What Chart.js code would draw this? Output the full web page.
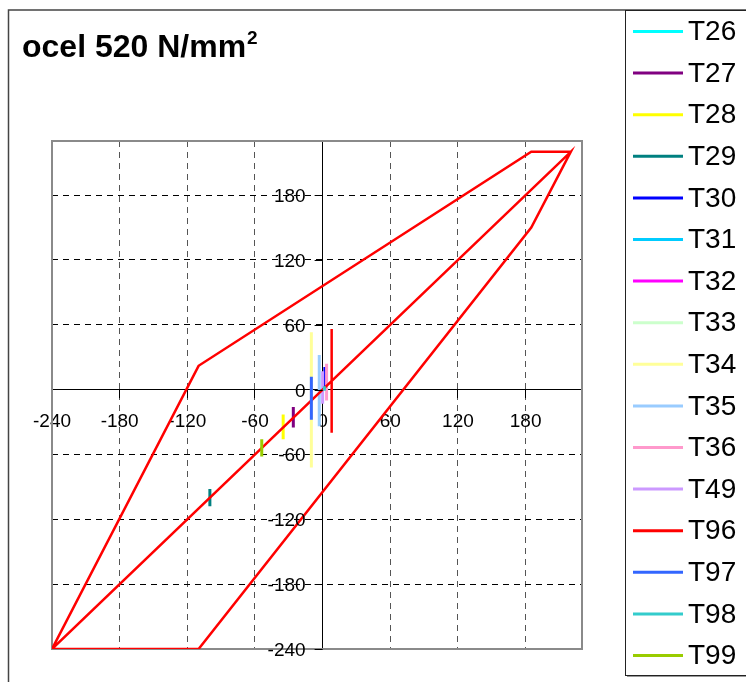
<!DOCTYPE html>
<html lang="cs">
<head>
  <meta charset="UTF-8">
  <title>ocel 520 N/mm²</title>
  <style>
    html, body { margin: 0; padding: 0; background: #fff; }
    #wrap { width: 746px; height: 682px; position: relative; }
  </style>
</head>
<body>
<div id="wrap"><canvas id="chart"></canvas></div>
<script src="https://cdn.jsdelivr.net/npm/chart.js"></script>
<script>
  const seriesNames = ['T26', 'T27', 'T28', 'T29', 'T30', 'T31', 'T32', 'T33',
                       'T34', 'T35', 'T36', 'T49', 'T96', 'T97', 'T98', 'T99'];
  const seriesColors = ['#00ffff', '#800080', '#ffff00', '#008080', '#0000ff', '#00ccff', '#ff00ff', '#ccffcc',
                        '#ffff99', '#99ccff', '#ff99cc', '#cc99ff', '#ff0000', '#3366ff', '#33cccc', '#99cc00'];

  // x / y values per series, null = gap in the line
  const t26X = [], t26Y = [];
  const t27X = [-26, -26], t27Y = [-16, -35];
  const t28X = [-35, -35], t28Y = [-23, -46];
  const t29X = [-100, -100], t29Y = [-92, -108];
  const t30X = [2, 2], t30Y = [21, 1];
  const t31X = [], t31Y = [];
  const t32X = [], t32Y = [];
  const t33X = [], t33Y = [];
  const t34X = [-10, -10], t34Y = [53, -72];
  const t35X = [-3, -3], t35Y = [32, -34];
  const t36X = [3.5, 3.5], t36Y = [24, -10];
  const t49X = [0, 0], t49Y = [17, -13];
  const t96X = [8, 8, null, -240, 220, 185, -110, -240, -110, 185, 220];
  const t96Y = [56, -40, null, -240, 220, 150, -240, -240, 22, 220, 220];
  const t97X = [-10, -10], t97Y = [12, -28];
  const t98X = [1.5, 1.5], t98Y = [3, -1];
  const t99X = [-54, -54], t99Y = [-46, -62];

  const xTicks = [-240, -180, -120, -60, 0, 60, 120, 180];
  const yTicks = [-240, -180, -120, -60, 0, 60, 120, 180];

  const seriesX = [t26X, t27X, t28X, t29X, t30X, t31X, t32X, t33X, t34X, t35X, t36X, t49X, t96X, t97X, t98X, t99X];
  const seriesY = [t26Y, t27Y, t28Y, t29Y, t30Y, t31Y, t32Y, t33Y, t34Y, t35Y, t36Y, t49Y, t96Y, t97Y, t98Y, t99Y];

  const FONT = '"Liberation Sans", Arial, sans-serif';

  const datasets = seriesNames.map((name, i) => ({
    label: name,
    data: seriesX[i].map((x, j) => ({ x: x, y: seriesY[i][j] })),
    borderColor: seriesColors[i],
    backgroundColor: seriesColors[i],
    borderWidth: name === 'T96' ? 2.5 : 3,
    showLine: true,
    pointRadius: 0,
    tension: 0,
    fill: false,
    order: seriesNames.length - i
  }));

  // frame, title, plot border, y labels and legend (drawn by hand like the excel one)
  const decor = {
    id: 'decor',
    beforeDraw(chart) {
      const ctx = chart.ctx;
      ctx.save();
      ctx.fillStyle = '#fff';
      ctx.fillRect(0, 0, chart.width, chart.height);
      ctx.strokeStyle = '#444';
      ctx.lineWidth = 1.5;
      ctx.beginPath();
      ctx.moveTo(8.5, 700);
      ctx.lineTo(8.5, 10);
      ctx.lineTo(760, 10);
      ctx.stroke();

      ctx.fillStyle = '#000';
      ctx.textBaseline = 'alphabetic';
      ctx.font = 'bold 32px ' + FONT;
      const t = 'ocel 520 N/mm';
      ctx.fillText(t, 22, 57);
      const w = ctx.measureText(t).width;
      ctx.font = 'bold 19px ' + FONT;
      ctx.fillText('2', 22 + w + 1, 44);

      // legend box
      ctx.fillStyle = '#999';
      ctx.fillRect(627, 12, 140, 665);
      ctx.fillStyle = '#fff';
      ctx.fillRect(625, 10, 140, 665);
      ctx.strokeStyle = '#222';
      ctx.lineWidth = 1;
      ctx.strokeRect(625.5, 10.5, 140, 665);
      ctx.font = '28px ' + FONT;
      ctx.textBaseline = 'middle';
      chart.data.datasets.forEach((ds, i) => {
        const y = 31.5 + i * 41.6;
        ctx.strokeStyle = ds.borderColor;
        ctx.lineWidth = 3;
        ctx.beginPath();
        ctx.moveTo(633, y);
        ctx.lineTo(683, y);
        ctx.stroke();
        ctx.fillStyle = '#000';
        ctx.fillText(ds.label, 688, y + 1);
      });
      ctx.restore();
    },
    beforeDatasetsDraw(chart) {
      const a = chart.chartArea;
      const ctx = chart.ctx;
      ctx.save();
      ctx.strokeStyle = '#8a8a8a';
      ctx.lineWidth = 2;
      ctx.strokeRect(a.left, a.top, a.right - a.left, a.bottom - a.top);
      ctx.restore();
    },
    afterDraw(chart) {
      // y tick labels sit left of the y axis with its tick marks
      const xs = chart.scales.x, ys = chart.scales.y;
      const ax = xs.getPixelForValue(0);
      const ctx = chart.ctx;
      ctx.save();
      ctx.strokeStyle = '#000';
      ctx.lineWidth = 1;
      ctx.fillStyle = '#000';
      ctx.font = '19px ' + FONT;
      ctx.textAlign = 'right';
      ctx.textBaseline = 'middle';
      ys.ticks.forEach(t => {
        const py = Math.round(ys.getPixelForValue(t.value)) + 0.5;
        ctx.beginPath();
        ctx.moveTo(ax - 8, py);
        ctx.lineTo(ax, py);
        ctx.stroke();
        ctx.fillText(String(t.value), ax - 17, py + 1);
      });
      ctx.restore();
    }
  };

  new Chart(document.getElementById('chart'), {
    type: 'scatter',
    data: { datasets: datasets },
    options: {
      responsive: true,
      maintainAspectRatio: false,
      animation: false,
      layout: { padding: { left: 52, top: 141, right: 164, bottom: 33 } },
      plugins: {
        legend: { display: false },
        title: { display: false },
        tooltip: { enabled: false }
      },
      scales: {
        x: {
          type: 'linear',
          min: -240,
          max: 230,
          position: { y: 0 },
          afterFit(scale) { scale.height = 0; },
          afterBuildTicks(scale) { scale.ticks = xTicks.map(v => ({ value: v })); },
          grid: { color: '#555', lineWidth: 1, tickLength: 8, tickColor: '#000', tickWidth: 1 },
          border: { display: true, color: '#000', width: 1, dash: [6, 5] },
          ticks: { color: '#000', padding: 13, maxRotation: 0, autoSkip: false, font: { family: FONT, size: 19 } }
        },
        y: {
          type: 'linear',
          min: -240,
          max: 230,
          position: { x: 0 },
          afterFit(scale) { scale.width = 0; },
          afterBuildTicks(scale) { scale.ticks = yTicks.map(v => ({ value: v })); },
          grid: { color: '#000', lineWidth: 1, drawTicks: false },
          border: { display: true, color: '#000', width: 1, dash: [6, 5] },
          ticks: { display: false }
        }
      }
    },
    plugins: [decor]
  });
</script>
</body>
</html>
